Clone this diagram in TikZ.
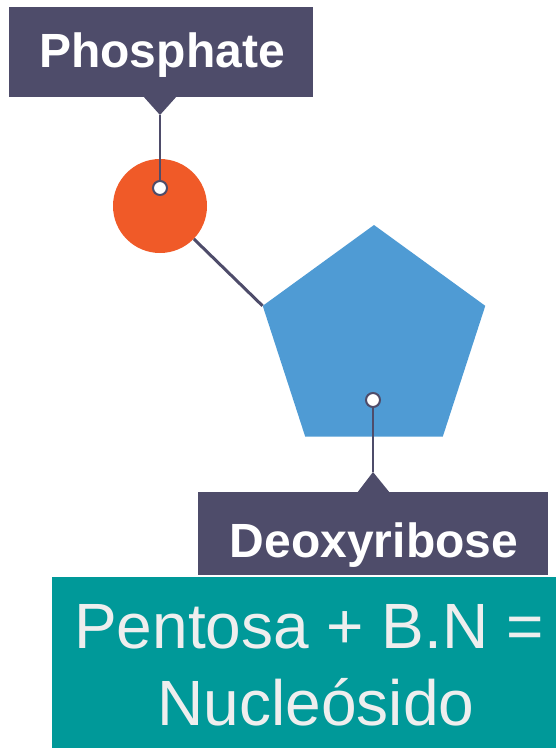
\documentclass[tikz,border=0pt]{standalone}
\usepackage{fontspec}
\setmainfont{Liberation Sans}
\usetikzlibrary{shapes.geometric}
\definecolor{slate}{HTML}{4E4C6A}
\definecolor{phosred}{HTML}{F05A28}
\definecolor{sugarblue}{HTML}{4F9BD4}
\definecolor{teal}{HTML}{009999}
\definecolor{lighttext}{HTML}{EEEEEE}
\tikzset{
  labelbox/.style={rectangle, fill=slate, inner sep=0pt},
  labeltext/.style={anchor=base, text=white, inner sep=0pt, font=\fontsize{48}{52}\selectfont\bfseries},
  dot/.style={circle, fill=white, draw=slate, line width=2pt, minimum size=14pt, inner sep=0pt},
  link/.style={draw=slate, line width=3pt},
  pointer/.style={fill=slate},
  bigtext/.style={anchor=base, text=lighttext, inner sep=0pt, font=\fontsize{64}{70}\selectfont}
}
\begin{document}
\begin{tikzpicture}[x=1pt,y=-1pt]
\useasboundingbox (0,0) rectangle (555,748);
% phosphate label
\node[labelbox, minimum width=304pt, minimum height=90pt] (phbox) at (161,52) {};
\node[labeltext] (phtext) at (162,67) {Phosphate};
\coordinate (phtip) at (160,115);
\fill[pointer] (143,96) -- (177,96) -- (phtip) -- cycle;
% phosphate circle
\node[circle, fill=phosred, minimum size=94pt, inner sep=0pt] (phos) at (160,206) {};
% pentagon
\node[regular polygon, regular polygon sides=5, fill=sugarblue, minimum size=234pt, inner sep=0pt] (sugar) at (374,342) {};
\draw[link] (phos) -- (sugar.corner 2);
\node[dot] (pdot) at (160,188) {};
\draw[link, line width=2.5pt] (phtip) -- (pdot);
% deoxyribose label
\node[labelbox, minimum width=350pt, minimum height=83pt] (dbox) at (373,533.5) {};
\node[labeltext] (dtext) at (374,557) {Deoxyribose};
\coordinate (dtip) at (373,472);
\fill[pointer] (357,493) -- (390,493) -- (dtip) -- cycle;
\node[dot] (sdot) at (373,400) {};
\draw[link, line width=2.5pt] (sdot) -- (dtip);
% green box
\node[rectangle, fill=teal, minimum width=506pt, minimum height=172pt, inner sep=0pt] (gbox) at (305,663) {};
\node[bigtext] (line1) at (309,648) {Pentosa + B.N =};
\node[bigtext] (line2) at (316,725) {Nucleósido};
\end{tikzpicture}
\end{document}
